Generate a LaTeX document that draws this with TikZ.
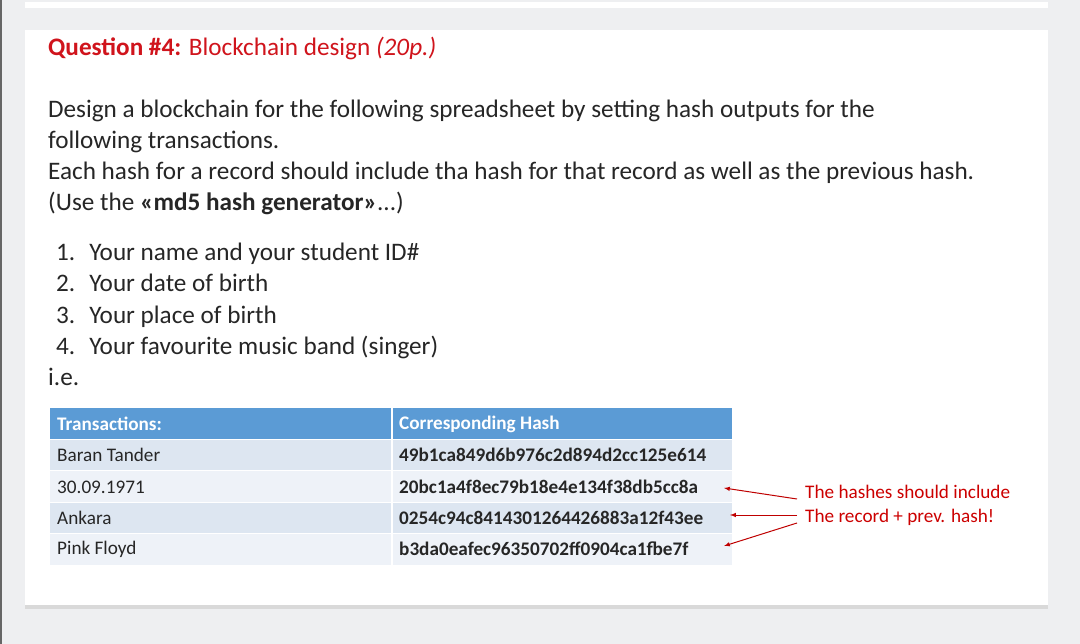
\documentclass[tikz,border=0pt]{standalone}
\usepackage{fontspec}
\setmainfont{Carlito}
\begin{document}
\begin{tikzpicture}[x=1pt,y=-1pt,
  body/.style={anchor=base west,inner sep=0,font=\fontsize{25.2}{30}\selectfont,text=black!85},
  cell/.style={anchor=west,inner sep=0,font=\fontsize{19.2}{22}\selectfont,text=black!85},
  hcell/.style={anchor=west,inner sep=0,font=\fontsize{19.2}{22}\selectfont\bfseries,text=white},
  hashc/.style={anchor=west,inner sep=0,font=\fontsize{19.2}{22}\selectfont\bfseries,text=black!85},
  note/.style={anchor=base west,inner sep=0,font=\fontsize{19.2}{22}\selectfont,text=red!80!black},
  arr/.style={draw=red!75!black,line width=1pt,-latex}]
\definecolor{bg}{HTML}{EEEFF1}
\definecolor{hdr}{HTML}{5B9BD5}
\definecolor{rowa}{HTML}{DDE6F1}
\definecolor{rowb}{HTML}{EEF2F8}
\definecolor{qred}{HTML}{D0141C}
\useasboundingbox (0,0) rectangle (1080,644);
\fill[bg] (0,0) rectangle (1080,644);
\fill[black!60] (0,0) rectangle (2,644);
\fill[white] (25,2) rectangle (1048,8);
\fill[white] (25,30) rectangle (1048,605);
\fill[black!15] (25,605) rectangle (1048,609);
\node[body,text=qred] (title) at (48,56) {\textbf{Question \#4:} Blockchain design \textit{(20p.)}};
\node[body] (l1) at (48,118) {Design a blockchain for the following spreadsheet by setting hash outputs for the};
\node[body] (l2) at (48,149) {following transactions.};
\node[body] (l3) at (48,180) {Each hash for a record should include tha hash for that record as well as the previous hash.};
\node[body] (l4) at (48,211) {(Use the \textbf{«md5 hash generator»}...)};
\node[body] (i1) at (56,261) {1.\hspace{14pt}Your name and your student ID\#};
\node[body] (i2) at (56,292) {2.\hspace{14pt}Your date of birth};
\node[body] (i3) at (56,324) {3.\hspace{14pt}Your place of birth};
\node[body] (i4) at (56,355) {4.\hspace{14pt}Your favourite music band (singer)};
\node[body] (ie) at (48,386) {i.e.};
% table
\fill[hdr] (50,408) rectangle (732,439);
\fill[rowa] (50,440) rectangle (732,470);
\fill[rowb] (50,471) rectangle (732,502);
\fill[rowa] (50,503) rectangle (732,533);
\fill[rowb] (50,534) rectangle (732,565);
\draw[white,line width=1.5pt] (392,408) -- (392,565);
\foreach \y in {439.5,470.5,502.5,533.5} \draw[white,line width=1.2pt] (50,\y) -- (732,\y);
\node[hcell] (h1) at (57,424) {Transactions:};
\node[hcell] (h2) at (399,424) {Corresponding Hash};
\node[cell] (a1) at (57,455) {Baran Tander};
\node[cell] (a2) at (57,487) {30.09.1971};
\node[cell] (a3) at (57,518) {Ankara};
\node[cell] (a4) at (57,549) {Pink Floyd};
\node[hashc] (b1) at (399,455) {49b1ca849d6b976c2d894d2cc125e614};
\node[hashc] (b2) at (399,487) {20bc1a4f8ec79b18e4e134f38db5cc8a};
\node[hashc] (b3) at (399,518) {0254c94c8414301264426883a12f43ee};
\node[hashc] (b4) at (399,549) {b3da0eafec96350702ff0904ca1fbe7f};
\node[note] (n1) at (805,498) {The hashes should include};
\node[note] (n2) at (805,522) {The record + prev. hash!};
\coordinate (t1) at (724,488);
\coordinate (t2) at (730,515);
\coordinate (t3) at (724,546);
\coordinate (s1) at (797,499);
\coordinate (s2) at (797,515);
\coordinate (s3) at (797,523);
\draw[arr] (s1) -- (t1);
\draw[arr] (s2) -- (t2);
\draw[arr] (s3) -- (t3);
\end{tikzpicture}
\end{document}
